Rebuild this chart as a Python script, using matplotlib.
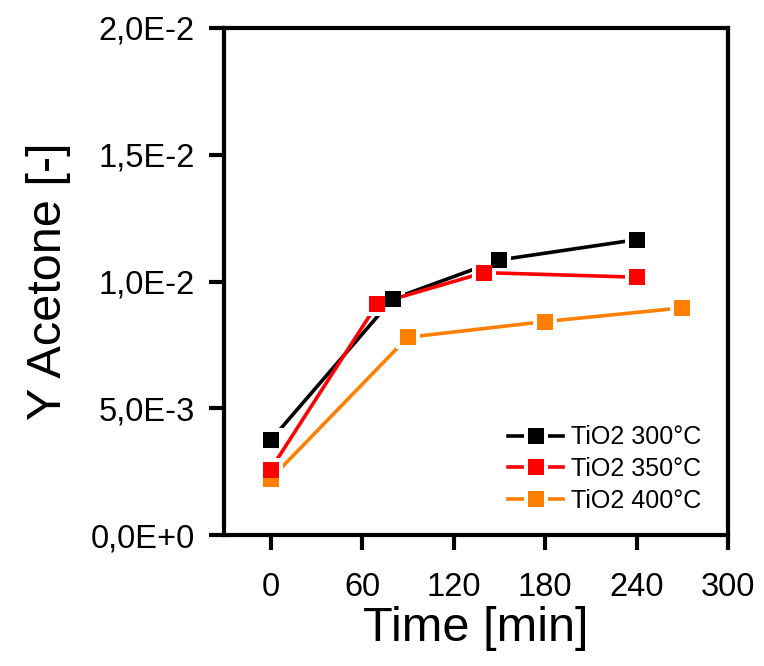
import matplotlib
matplotlib.use("Agg")
import matplotlib.pyplot as plt
from matplotlib.lines import Line2D

plt.rcParams['font.family'] = ['Liberation Sans', 'DejaVu Sans']

# Data
t_300 = [0, 80, 150, 240]
y_300 = [3.73e-3, 9.31e-3, 10.85e-3, 11.65e-3]
t_350 = [0, 70, 140, 240]
y_350 = [2.58e-3, 9.12e-3, 10.35e-3, 10.17e-3]
t_400 = [0, 90, 180, 270]
y_400 = [2.21e-3, 7.80e-3, 8.42e-3, 8.96e-3]

labels = ["TiO2 300°C", "TiO2 350°C", "TiO2 400°C"]
colors = ["#000000", "#FF0000", "#FF8000"]

x_ticks = [0, 60, 120, 180, 240, 300]
y_ticks = [0.0, 0.005, 0.010, 0.015, 0.020]
y_ticklabels = ["0,0E+0", "5,0E-3", "1,0E-2", "1,5E-2", "2,0E-2"]

fig = plt.figure(figsize=(7.64, 6.66), dpi=100)
ax = fig.add_axes([224/764, 131/666, 504/764, 507/666])

lw = 2.6
ms = 11.8
halo = 17.5

series = [(t_400, y_400, colors[2], 2), (t_300, y_300, colors[0], 3), (t_350, y_350, colors[1], 4)]
for t, y, c, z in series:
    ax.plot(t, y, '-', color=c, lw=lw, zorder=z, solid_capstyle='butt')
    ax.plot(t, y, 's', color='white', ms=halo, mew=0, zorder=z + 0.1)
for t, y, c, z in series:
    ax.plot(t, y, 's', color=c, ms=ms, mew=0, zorder=10 + z)

ax.set_xlim(-30.5, 300)
ax.set_ylim(0, 0.02)
ax.set_xticks(x_ticks)
ax.set_yticks(y_ticks)
ax.set_yticklabels(y_ticklabels)

for s in ax.spines.values():
    s.set_linewidth(3.0)
ax.tick_params(direction='out', length=11, width=3.0, labelsize=23.5)
ax.tick_params(axis='x', pad=16)
ax.tick_params(axis='y', pad=10)

ax.set_xlabel("Time [min]", fontsize=35, labelpad=2)
ax.set_ylabel("Y Acetone [-]", fontsize=35, labelpad=14)

handles = []
for c in colors:
    h_line = Line2D([], [], color=c, lw=lw)
    h_halo = Line2D([], [], ls='none', marker='s', color='white', ms=halo, mew=0)
    h_mark = Line2D([], [], ls='none', marker='s', color=c, ms=ms, mew=0)
    handles.append((h_line, h_halo, h_mark))

ax.legend(handles, labels, loc='upper left', bbox_to_anchor=(0.5635, 0.216),
          frameon=False, fontsize=18, handlelength=2.2, handletextpad=0.3,
          labelspacing=0.31, borderpad=0, borderaxespad=0)

fig.savefig("out.png", dpi=100)
